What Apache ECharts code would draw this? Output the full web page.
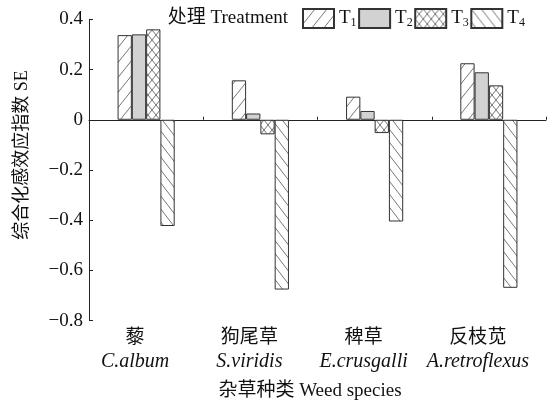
<!DOCTYPE html>
<html>
<head>
<meta charset="utf-8">
<script src="https://cdn.jsdelivr.net/npm/echarts@6/dist/echarts.min.js"></script>
<style>
  html, body { margin: 0; padding: 0; background: #fff; }
  #chart { width: 556px; height: 403px; }
</style>
</head>
<body>
<div id="chart"></div>
<script>
// Weed species (Chinese name + Latin name) and treatment responses
var speciesCn = ['藜', '狗尾草', '稗草', '反枝苋'];
var speciesLatin = ['C.album', 'S.viridis', 'E.crusgalli', 'A.retroflexus'];
var treatments = ['T1', 'T2', 'T3', 'T4'];
var valuesT1 = [0.337, 0.157, 0.092, 0.225];
var valuesT2 = [0.340, 0.025, 0.035, 0.189];
var valuesT3 = [0.360, -0.058, -0.053, 0.137];
var valuesT4 = [-0.423, -0.676, -0.405, -0.669];
var yTicks = [-0.8, -0.6, -0.4, -0.2, 0, 0.2, 0.4];

var FONT = "'Liberation Serif', 'Times New Roman', 'Noto Sans CJK SC', serif";

// Hatch fills drawn on small tiles and repeated over the bars
function tile(w, h, draw, bg) {
  var c = document.createElement('canvas');
  c.width = w; c.height = h;
  var g = c.getContext('2d');
  g.fillStyle = bg || '#ffffff';
  g.fillRect(0, 0, w, h);
  g.strokeStyle = '#666';
  g.lineWidth = 0.9;
  draw(g, w, h);
  return { image: c, repeat: 'repeat' };
}
function line(g, x1, y1, x2, y2) {
  g.beginPath(); g.moveTo(x1, y1); g.lineTo(x2, y2); g.stroke();
}
var fillForward = tile(12, 15, function (g, w, h) {
  line(g, -w, 2 * h, 2 * w, -h);
  line(g, -2 * w, 2 * h, w, -h);
  line(g, 0, 2 * h, 3 * w, -h);
});
var fillSolid = '#d2d2d2';
var fillCross = tile(8, 10, function (g, w, h) {
  line(g, 0, 0, w, h); line(g, -w, 0, 0, h); line(g, w, 0, 2 * w, h);
  line(g, 0, h, w, 0); line(g, -w, h, 0, 0); line(g, w, h, 2 * w, 0);
});
var fillBack = tile(10, 13, function (g, w, h) {
  line(g, -w, -h, 2 * w, 2 * h);
  line(g, -2 * w, -h, w, 2 * h);
  line(g, 0, -h, 3 * w, 2 * h);
});

var fills = [fillForward, fillSolid, fillCross, fillBack];
var seriesValues = [valuesT1, valuesT2, valuesT3, valuesT4];

var chart = echarts.init(document.getElementById('chart'), null, { renderer: 'canvas' });

var categoryLabels = speciesCn.map(function (cn, i) {
  return '{cn|' + cn + '}\n{en|' + speciesLatin[i] + '}';
});

var option = {
  animation: false,
  backgroundColor: '#ffffff',
  textStyle: { fontFamily: FONT, color: '#111' },
  grid: { left: 89, right: 10, top: 19.3, bottom: 82.3, containLabel: false },
  legend: {
    left: 302,
    top: 8,
    padding: 0,
    itemWidth: 31,
    itemHeight: 19,
    itemGap: 1.5,
    icon: 'rect',
    data: treatments,
    formatter: function (name) {
      return '{t|T}{s|' + name.slice(1) + '}';
    },
    textStyle: {
      fontFamily: FONT,
      color: '#111',
      rich: {
        t: { fontSize: 19, fontFamily: FONT, lineHeight: 20, color: '#111' },
        s: { fontSize: 12, fontFamily: FONT, lineHeight: 12, verticalAlign: 'bottom', padding: [8, 0, 0, 0], color: '#111' }
      }
    }
  },
  xAxis: [
    {
      type: 'category',
      data: categoryLabels,
      position: 'bottom',
      axisLine: { show: false, onZero: false },
      axisTick: { show: false },
      axisLabel: {
        interval: 0,
        margin: 2,
        padding: [0, 22, 0, 0],
        color: '#111',
        rich: {
          cn: { fontSize: 19, lineHeight: 26, fontFamily: "'Noto Sans CJK SC', serif", color: '#111' },
          en: { fontSize: 20, lineHeight: 26, fontStyle: 'italic', fontFamily: FONT, color: '#111' }
        }
      }
    },
    {
      type: 'category',
      data: categoryLabels,
      position: 'bottom',
      axisLine: { show: true, onZero: true, lineStyle: { color: '#222', width: 1 } },
      axisTick: { show: true, inside: true, interval: 0, length: 3, alignWithLabel: false, lineStyle: { color: '#222' } },
      axisLabel: { show: false }
    }
  ],
  yAxis: {
    type: 'value',
    min: yTicks[0],
    max: yTicks[yTicks.length - 1],
    interval: 0.2,
    axisLine: { show: true, lineStyle: { color: '#222', width: 1 } },
    axisTick: { show: true, inside: true, length: 4, lineStyle: { color: '#222' } },
    splitLine: { show: false },
    axisLabel: {
      margin: 6,
      fontSize: 19,
      fontFamily: FONT,
      color: '#111',
      formatter: function (v) {
        if (Math.abs(v) < 1e-9) return '0';
        return v.toFixed(1).replace('-', '\u2212');
      }
    }
  },
  graphic: [
    {
      type: 'text',
      x: 22, y: 155,
      rotation: Math.PI / 2,
      style: {
        text: '综合化感效应指数 SE',
        font: '18px ' + FONT,
        fill: '#111',
        textAlign: 'center',
        textVerticalAlign: 'middle'
      }
    },
    {
      type: 'text',
      x: 310, y: 391,
      style: {
        text: '杂草种类 Weed species',
        font: '19px ' + FONT,
        fill: '#111',
        textAlign: 'center',
        textVerticalAlign: 'middle'
      }
    },
    {
      type: 'text',
      x: 288, y: 18,
      style: {
        text: '处理 Treatment',
        font: '19px ' + FONT,
        fill: '#111',
        textAlign: 'right',
        textVerticalAlign: 'middle'
      }
    }
  ],
  series: treatments.map(function (name, i) {
    return {
      name: name,
      type: 'bar',
      xAxisIndex: 0,
      data: seriesValues[i],
      barGap: '0%',
      barCategoryGap: '50%',
      itemStyle: {
        color: fills[i],
        borderColor: '#333',
        borderWidth: 1
      }
    };
  })
};

chart.setOption(option);
</script>
</body>
</html>
